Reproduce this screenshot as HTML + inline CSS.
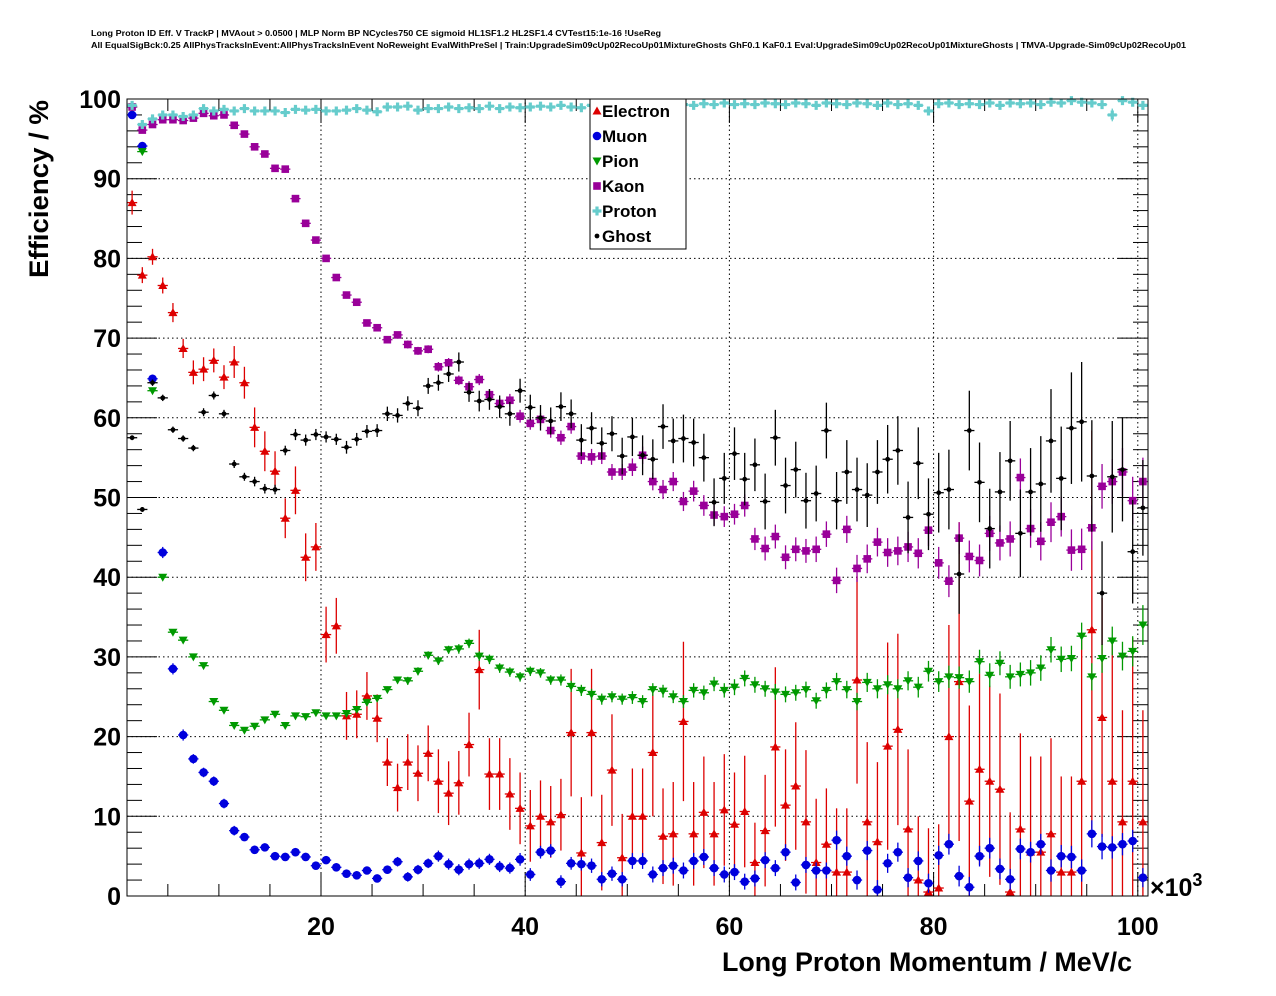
<!DOCTYPE html>
<html><head><meta charset="utf-8"><title>Long Proton ID Eff</title>
<style>
html,body{margin:0;padding:0;background:#fff;}
svg{display:block;font-family:"Liberation Sans",Arial,sans-serif;}
</style></head>
<body>
<svg id="chart" width="1276" height="996" viewBox="0 0 1276 996" xmlns="http://www.w3.org/2000/svg">
<rect x="0" y="0" width="1276" height="996" fill="#fff"/>
<text x="91" y="36" font-size="8" font-weight="bold" textLength="570" lengthAdjust="spacingAndGlyphs">Long Proton ID Eff. V TrackP | MVAout &gt; 0.0500 | MLP Norm BP NCycles750 CE sigmoid HL1SF1.2 HL2SF1.4 CVTest15:1e-16 !UseReg</text>
<text x="91" y="48" font-size="8" font-weight="bold" textLength="1095" lengthAdjust="spacingAndGlyphs">All EqualSigBck:0.25 AllPhysTracksInEvent:AllPhysTracksInEvent NoReweight EvalWithPreSel | Train:UpgradeSim09cUp02RecoUp01MixtureGhosts GhF0.1 KaF0.1 Eval:UpgradeSim09cUp02RecoUp01MixtureGhosts | TMVA-Upgrade-Sim09cUp02RecoUp01</text>
<g id="grid"></g>
<g id="axes"></g>
<g id="series"></g>
<rect x="127" y="99" width="1021" height="797" fill="none" stroke="#000" stroke-width="1"/>
<text transform="translate(48,100) rotate(-90)" text-anchor="end" font-size="27" font-weight="bold" textLength="178" lengthAdjust="spacingAndGlyphs">Efficiency / %</text>
<text x="1132" y="971" text-anchor="end" font-size="27" font-weight="bold" textLength="410" lengthAdjust="spacingAndGlyphs">Long Proton Momentum / MeV/c</text>
<text x="1150" y="896" font-size="25" font-weight="bold">×10<tspan dy="-10" font-size="18">3</tspan></text>
<g id="legend"></g>
</svg>
<script>
const categories = (function(){const c=[];for(let i=0;i<100;i++)c.push(i+1.5);return c;})();
const yTicks = [0,10,20,30,40,50,60,70,80,90,100];
const yTickLabels = ["0","10","20","30","40","50","60","70","80","90","100"];
const xTicks = [20,40,60,80,100];
const xTickLabels = ["20","40","60","80","100"];

const electron = [87.0,77.9,80.2,76.6,73.2,68.7,65.7,66.1,67.2,65.1,
67.0,64.4,58.8,55.8,53.3,47.4,50.9,42.5,43.8,32.8,
33.9,22.6,22.8,25.1,22.3,16.8,13.6,16.8,15.4,17.9,
14.4,12.9,14.2,19.0,28.4,15.3,15.3,12.8,11.0,8.8,
10.0,9.3,10.2,20.5,5.4,20.5,6.7,15.8,4.8,10.0,
10.0,18.0,7.5,7.8,21.9,7.8,10.5,7.8,10.8,9.0,
10.6,4.2,8.2,18.7,11.4,13.8,9.3,4.2,6.5,3.0,
3.0,27.1,9.3,6.8,18.8,20.9,8.4,2.0,0.5,1.0,
20.0,26.9,11.9,15.9,14.4,13.4,0.5,8.4,5.5,5.5,
7.8,3.0,3.0,14.4,33.4,22.4,14.4,9.3,14.4,9.3];
const electronErr = [1.5,1,1,1,1.2,1.2,1.5,1.5,1.5,1.5,
2,2,2.5,2.5,2.5,2.5,3,3,3,3.5,
3.5,3,3,3,3,3,3,3.5,3.5,3.5,
4,4,4,4,5,4.5,4.5,4.5,4.5,4.5,
4.5,4.5,4.5,8,7,8,6,7,5.5,6,
6,8,6,6.5,10,6.5,7,6.5,7,6.5,
7,5,7,10,7,8,9,8,7,8,
8,13,10,10,13,12,10,8,8,8,
14,20,12,12,12,12,10,12,12,12,
12,12,12,18,25,15,18,14,18,14];

const muon = [98.0,94.1,64.9,43.1,28.5,20.2,17.2,15.5,14.4,11.6,
8.2,7.4,5.8,6.1,5.0,4.9,5.5,4.9,3.8,4.5,
3.6,2.8,2.6,3.2,2.2,3.3,4.3,2.4,3.3,4.1,
5.0,4.0,3.3,4.0,4.1,4.6,3.7,3.5,4.6,2.7,
5.5,5.7,1.8,4.1,4.0,3.8,2.1,2.8,2.1,4.4,
4.4,2.7,3.5,3.8,3.2,4.4,4.9,3.5,2.7,3.0,
1.8,2.2,4.5,3.5,5.5,1.7,3.9,3.2,3.2,7.0,
5.0,2.0,5.7,0.8,4.1,5.5,2.3,4.4,1.6,5.1,
6.5,2.5,1.1,5.0,6.0,3.4,2.1,5.9,5.5,6.5,
3.2,5.0,4.9,3.2,7.8,6.2,6.1,6.5,6.9,2.3];
const muonErr = [.3,.4,.5,.7,.7,.7,.6,.6,.6,.6,
.6,.5,.5,.5,.5,.5,.5,.5,.5,.5,
.5,.5,.5,.5,.5,.5,.6,.6,.6,.6,
.7,.7,.7,.7,.7,.7,.7,.7,.8,.8,
.8,.8,.8,.8,.8,.9,.9,.9,.9,1,
1,1,1,1,1,1,1,1,1,1,
1,1,1,1,1,1,1,1,1,1.2,
1.2,1.2,1.2,1.2,1.2,1.2,1.2,1.2,1.2,1.2,
1.3,1.3,1.3,1.3,1.3,1.3,1.3,1.3,1.3,1.3,
1.4,1.4,1.4,1.4,1.7,1.6,1.4,1.4,1.4,1.2];

const pion = [99.0,93.4,63.4,40.0,33.1,32.1,30.0,28.9,24.4,23.3,
21.4,20.8,21.3,22.1,22.8,21.4,22.6,22.5,23.0,22.6,
22.6,22.9,23.4,24.3,24.8,25.9,27.1,27.0,28.2,30.2,
29.5,30.9,31.0,31.7,30.1,29.7,28.6,28.1,27.5,28.2,
28.0,27.1,27.1,26.3,25.8,25.3,24.7,25.0,24.7,24.9,
24.4,25.9,25.7,25.0,24.4,25.8,25.5,26.6,25.8,26.2,
27.3,26.5,26.0,25.6,25.3,25.5,25.9,24.5,25.8,26.9,
25.9,24.4,26.8,26.0,26.5,26.0,27.0,26.2,28.2,26.9,
27.5,27.4,26.9,29.4,27.7,29.2,27.5,27.8,28.0,28.6,
30.9,29.7,29.8,32.6,27.5,29.8,32.0,30.1,30.7,34.0];
const pionErr = [.3,.3,.3,.3,.3,.3,.3,.3,.3,.3,
.3,.3,.3,.3,.3,.3,.3,.3,.3,.3,
.3,.3,.4,.4,.4,.4,.4,.5,.5,.5,
.5,.5,.6,.6,.6,.6,.6,.6,.6,.6,
.6,.6,.7,.7,.7,.7,.7,.7,.7,.8,
.8,.8,.8,.8,.8,.9,.9,.9,.9,1,
1,1,1,1,1,1,1,1,1,1.1,
1.1,1.1,1.2,1.2,1.2,1.2,1.2,1.3,1.3,1.3,
1.4,1.4,1.4,1.5,1.5,1.5,1.5,1.5,1.6,1.6,
1.6,1.6,1.6,1.7,1.7,1.8,1.8,1.8,1.9,2.5];

const kaon = [99.0,96.1,96.8,97.4,97.4,97.3,97.6,98.2,97.9,98.0,
96.7,95.6,94.0,93.1,91.3,91.2,87.5,84.4,82.3,80.0,
77.6,75.4,74.5,71.9,71.3,69.8,70.4,69.2,68.4,68.6,
66.4,66.9,64.7,63.9,64.8,62.9,61.8,62.2,60.2,59.3,
59.8,58.4,57.5,58.9,55.2,55.1,55.2,53.2,53.2,53.8,
55.3,52.0,51.0,52.0,49.5,50.8,49.0,47.8,47.6,47.9,
49.0,44.8,43.6,45.1,42.5,43.5,43.3,43.5,45.4,39.6,
46.0,41.1,42.3,44.4,43.1,43.3,43.8,43.0,45.9,41.8,
39.5,44.9,42.6,42.1,45.5,44.3,44.8,52.5,46.1,44.5,
46.9,47.6,43.4,43.5,46.2,51.4,52.0,53.2,49.6,52.0];
const kaonErr = [.2,.2,.2,.2,.2,.2,.2,.2,.2,.2,
.2,.3,.3,.3,.3,.3,.3,.3,.3,.3,
.3,.3,.4,.4,.4,.4,.4,.5,.5,.5,
.6,.6,.6,.7,.7,.7,.7,.8,.8,.8,
.8,.9,.9,.9,1,1,1,1,1,1.1,
1.1,1.1,1.2,1.2,1.2,1.3,1.3,1.3,1.3,1.3,
1.4,1.4,1.5,1.5,1.5,1.5,1.5,1.6,1.6,1.6,
1.7,1.7,1.8,1.8,1.8,1.8,1.9,1.9,2,2,
2,2,2,2,2.2,2.2,2.2,2.4,2.4,2.4,
2.5,2.5,2.6,2.6,2.8,2.8,2.8,3,3,3];

const proton = [99.2,96.8,97.5,98.0,98.0,97.8,98.0,98.8,98.5,98.7,
98.5,98.8,98.5,98.5,98.5,98.3,98.7,98.6,98.7,98.5,
98.5,98.6,98.8,98.6,98.4,99.0,99.0,99.1,98.6,98.8,
98.8,99.0,98.8,98.9,98.8,99.1,98.8,99.0,98.9,99.0,
99.1,99.0,99.2,99.0,98.9,99.2,99.1,99.2,99.0,99.3,
99.2,99.3,99.1,99.3,99.3,99.2,99.4,99.3,99.5,99.3,
99.4,99.3,99.5,99.4,99.3,99.5,99.4,99.2,99.5,99.4,
99.3,99.5,99.4,99.2,99.5,99.3,99.4,99.2,98.5,99.4,
99.5,99.3,99.4,99.3,99.5,99.2,99.5,99.4,99.5,99.3,
99.6,99.5,99.8,99.6,99.5,99.3,98.0,99.8,99.6,99.2];
const protonErr = [.2,.2,.2,.2,.2,.2,.2,.2,.2,.2,
.2,.2,.2,.2,.2,.2,.2,.2,.2,.2,
.2,.2,.2,.2,.2,.2,.2,.2,.2,.2,
.2,.2,.2,.2,.2,.2,.2,.2,.2,.2,
.2,.2,.2,.2,.2,.2,.2,.2,.2,.2,
.2,.2,.2,.2,.2,.2,.2,.2,.2,.2,
.2,.2,.2,.2,.2,.2,.2,.2,.2,.2,
.3,.3,.3,.3,.3,.3,.3,.3,.4,.3,
.3,.3,.3,.3,.3,.3,.3,.3,.3,.3,
.3,.3,.3,.3,.3,.3,.8,.3,.3,.4];

const ghost = [57.5,48.5,64.4,62.5,58.5,57.4,56.2,60.7,62.8,60.5,
54.2,52.6,52.0,51.1,51.0,55.9,57.9,57.2,57.9,57.6,
57.3,56.3,57.3,58.3,58.4,60.5,60.3,61.8,61.2,64.0,
64.4,65.5,67.0,63.2,62.1,62.3,61.4,60.5,63.4,61.3,
60.0,59.6,61.4,60.5,57.2,58.7,56.8,58.0,55.2,57.6,
55.3,54.8,58.9,57.1,57.4,56.9,55.0,49.4,52.4,55.5,
52.3,54.1,49.5,57.5,51.5,53.5,49.6,50.5,58.4,49.6,
53.2,51.0,50.3,53.2,54.8,55.9,47.5,54.3,47.9,50.6,
51.0,40.4,58.4,51.9,46.1,50.7,54.6,45.5,50.7,51.7,
57.1,52.4,58.7,59.5,52.7,38.0,52.6,53.5,43.2,48.7];
const ghostErr = [.3,.3,.4,.4,.4,.4,.4,.5,.5,.5,
.5,.5,.6,.6,.6,.6,.7,.7,.7,.7,
.7,.8,.8,.8,.8,.9,.9,.9,1,1,
1,1,1.2,1.2,1.3,1.3,1.4,1.5,1.5,1.6,
1.6,1.7,1.8,1.8,2,2,2,2.2,2.3,2.4,
2.5,2.5,2.8,2.8,3,3,3,3,3.2,3.3,
3.3,3.3,3.5,3.5,3.5,3.5,3.5,3.5,3.5,3.6,
4,4,4,4,4.3,4.3,4.5,4.5,4.5,5,
5,5,5,5,5,5,5,5.5,5.5,6,
6.5,6.5,7,7.5,7,6.5,7,6.5,6.5,6];

const seriesNames = ["Electron","Muon","Pion","Kaon","Proton","Ghost"];

const NS = "http://www.w3.org/2000/svg";
const X0 = 127, X1 = 1148, Y0 = 896, Y1 = 99;
const XMIN = 1, XMAX = 101, YMIN = 0, YMAX = 100;
function xPx(v){ return X0 + (v - XMIN) / (XMAX - XMIN) * (X1 - X0); }
function yPx(v){ return Y0 - (v - YMIN) / (YMAX - YMIN) * (Y0 - Y1); }
function el(tag, attrs, parent){ const e = document.createElementNS(NS, tag); for (const k in attrs) e.setAttribute(k, attrs[k]); parent.appendChild(e); return e; }

const grid = document.getElementById('grid');
const axes = document.getElementById('axes');
yTicks.forEach(function(t){
  if (t <= YMIN || t >= YMAX) return;
  const l = el('line', {x1:X0, x2:X1, y1:yPx(t), y2:yPx(t), stroke:'#000', 'stroke-width':1, 'stroke-dasharray':'1.5,3'}, grid);
  
  
});
xTicks.forEach(function(t){
  if (t >= XMAX) return;
  const l = el('line', {x1:xPx(t), x2:xPx(t), y1:Y0, y2:Y1, stroke:'#000', 'stroke-width':1, 'stroke-dasharray':'1.5,3'}, grid);
  
  
});
for (let v = 0; v <= 100; v += 2) {
  const major = (v % 10 === 0);
  const len = major ? 30 : 15;
  const y = yPx(v);
  const a = el('line', {x1:X0, x2:X0 + len, y1:y, y2:y, stroke:'#000', 'stroke-width':1}, axes);
  
  
  const b = el('line', {x1:X1, x2:X1 - len, y1:y, y2:y, stroke:'#000', 'stroke-width':1}, axes);
  
  
}
yTicks.forEach(function(t, i){
  const tx = el('text', {x:121, y:yPx(t) + 9, 'text-anchor':'end', 'font-size':25, 'font-weight':'bold'}, axes);
  
  
  tx.textContent = yTickLabels[i];
});
for (let v = 5; v <= 100; v += 5) {
  const major = (v % 20 === 0);
  const len = major ? 24 : 12;
  const x = xPx(v);
  const a = el('line', {x1:x, x2:x, y1:Y0, y2:Y0 - len, stroke:'#000', 'stroke-width':1}, axes);
  
  
  const b = el('line', {x1:x, x2:x, y1:Y1, y2:Y1 + len, stroke:'#000', 'stroke-width':1}, axes);
  
  
}
xTicks.forEach(function(t, i){
  const tx = el('text', {x:xPx(t), y:935, 'text-anchor':'middle', 'font-size':25, 'font-weight':'bold'}, axes);
  
  
  tx.textContent = xTickLabels[i];
});

function drawMarker(kind, cx, cy, color, parent){
  let m;
  if (kind === 'tri-up') {
    m = el('polygon', {points:(cx)+','+(cy-4.5)+' '+(cx-4.5)+','+(cy+3.5)+' '+(cx+4.5)+','+(cy+3.5), fill:color}, parent);
  } else if (kind === 'tri-down') {
    m = el('polygon', {points:(cx)+','+(cy+4.5)+' '+(cx-4.5)+','+(cy-3.5)+' '+(cx+4.5)+','+(cy-3.5), fill:color}, parent);
  } else if (kind === 'circle') {
    m = el('circle', {cx:cx, cy:cy, r:4.3, fill:color}, parent);
  } else if (kind === 'square') {
    m = el('rect', {x:cx-3.8, y:cy-3.8, width:7.6, height:7.6, fill:color}, parent);
  } else if (kind === 'cross') {
    const a = 1.6, b = 4.5;
    m = el('polygon', {points:[[cx-a,cy-b],[cx+a,cy-b],[cx+a,cy-a],[cx+b,cy-a],[cx+b,cy+a],[cx+a,cy+a],[cx+a,cy+b],[cx-a,cy+b],[cx-a,cy+a],[cx-b,cy+a],[cx-b,cy-a],[cx-a,cy-a]].map(function(p){return p.join(',');}).join(' '), fill:color}, parent);
  } else {
    m = el('circle', {cx:cx, cy:cy, r:2.4, fill:color}, parent);
  }
  return m;
}

const seriesDefs = [
  {name:'electron', vals:electron, errs:electronErr, color:'#dd0000', kind:'tri-up'},
  {name:'muon', vals:muon, errs:muonErr, color:'#0000dd', kind:'circle'},
  {name:'pion', vals:pion, errs:pionErr, color:'#009900', kind:'tri-down'},
  {name:'kaon', vals:kaon, errs:kaonErr, color:'#990099', kind:'square'},
  {name:'proton', vals:proton, errs:protonErr, color:'#66cccc', kind:'cross'},
  {name:'ghost', vals:ghost, errs:ghostErr, color:'#000000', kind:'dot'}
];
const seriesG = document.getElementById('series');
seriesDefs.forEach(function(s){
  const g = el('g', {}, seriesG);
  
  
  s.vals.forEach(function(v, i){
    const c = categories[i];
    const cx = xPx(c), cy = yPx(v);
    const top = Math.max(Y1, yPx(v + s.errs[i])), bot = Math.min(Y0, yPx(v - s.errs[i]));
    const pt = el('g', {}, g);
    
    
    el('line', {x1:xPx(c - 0.5), x2:xPx(c + 0.5), y1:cy, y2:cy, stroke:s.color, 'stroke-width':1.3}, pt);
    el('line', {x1:cx, x2:cx, y1:top, y2:bot, stroke:s.color, 'stroke-width':1.3}, pt);
    drawMarker(s.kind, cx, cy, s.color, pt);
  });
});

const lg = document.getElementById('legend');
const box = el('rect', {x:590, y:99, width:96, height:150, fill:'#fff', stroke:'#000', 'stroke-width':1}, lg);


seriesDefs.forEach(function(s, i){
  const y = 111 + i * 25;
  const e = el('g', {}, lg);
  
  
  drawMarker(s.kind, 597, y, s.color, e);
  const t = el('text', {x:602, y:y + 6, 'font-size':17, 'font-weight':'bold'}, e);
  t.textContent = seriesNames[i];
});
</script>
</body></html>
